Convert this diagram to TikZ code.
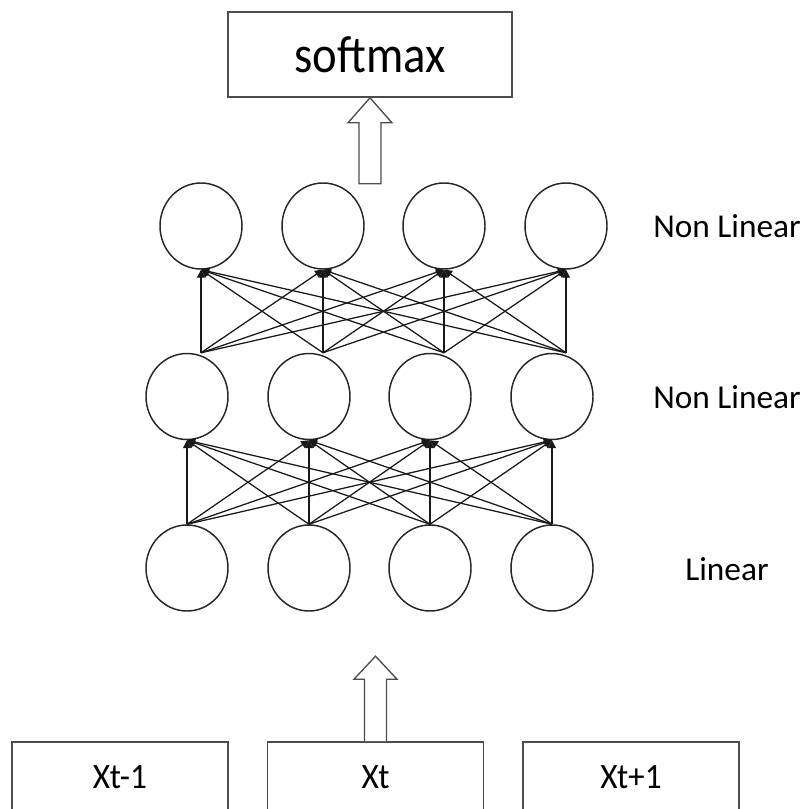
\documentclass[tikz,border=0pt]{standalone}
\usepackage{fontspec}
\setmainfont{Carlito}
\usetikzlibrary{shapes.geometric,arrows.meta}
\begin{document}
\begin{tikzpicture}[x=0.75pt,y=-0.75pt,
  neuron/.style={ellipse,draw=black!85,line width=1.1pt,minimum width=61.5pt,minimum height=64.5pt,inner sep=0pt},
  box/.style={rectangle,draw=black!70,line width=1.2pt,inner sep=0pt},
  conn/.style={draw=black!90,line width=0.95pt,-{Triangle[length=6pt,width=6pt]}},
  hollow/.style={draw=black!70,line width=1pt,fill=white,line join=miter},
  lab/.style={font=\fontsize{25}{30}\selectfont}
]
\useasboundingbox (0,0) rectangle (808,809);
\clip (0,0) rectangle (808,809);
% boxes
\node[box,minimum width=213pt,minimum height=63.75pt,font=\fontsize{35}{40}\selectfont] (sm) at (370,54.5) {\scalebox{1}[1.12]{softmax}};
\node[box,minimum width=162pt,minimum height=52.5pt,lab] (xa) at (120,777) {\scalebox{1}[1.07]{Xt-1}};
\node[box,minimum width=162pt,minimum height=52.5pt,lab] (xb) at (375.5,777) {\scalebox{1}[1.07]{Xt}};
\node[box,minimum width=162pt,minimum height=52.5pt,lab] (xc) at (631,777) {\scalebox{1}[1.07]{Xt+1}};
% neurons
\foreach \i/\x in {1/201,2/323,3/444,4/566} \node[neuron] (t\i) at (\x,226) {};
\foreach \i/\x in {1/187,2/309,3/430,4/552} \node[neuron] (m\i) at (\x,396.5) {};
\foreach \i/\x in {1/187,2/309,3/430,4/552} \node[neuron] (b\i) at (\x,568) {};
% labels
\node[lab] (l1) at (727,226) {Non Linear};
\node[lab] (l2) at (727,397) {Non Linear};
\node[lab] (l3) at (727,569) {Linear};
% connections
\foreach \i in {1,...,4} \foreach \j in {1,...,4} \draw[conn] (b\i.north) -- (m\j.south);
\foreach \i in {1,...,4} \foreach \j in {1,...,4} \draw[conn] (t\i.south |- m\i.north) -- (t\j.south);
% hollow arrows
\draw[hollow] (sm.south) -- ++(22,25) -- ++(-11,0) -- ++(0,61) -- ++(-22,0) -- ++(0,-61) -- ++(-11,0) -- cycle;
\draw[hollow] (xb.north) ++(11,0) -- ++(0,-62) -- ++(10.5,0) -- ++(-21.5,-23) -- ++(-21.5,23) -- ++(10.5,0) -- ++(0,62);
\end{tikzpicture}
\end{document}
